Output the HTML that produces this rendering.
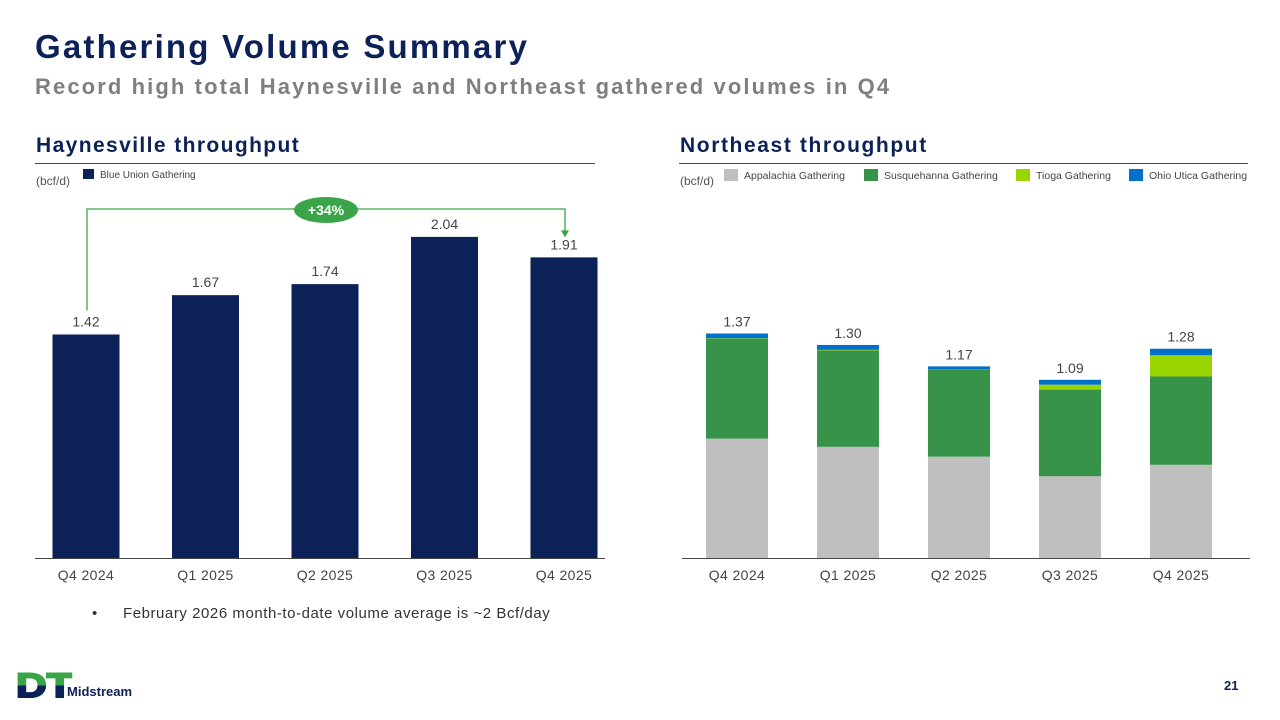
<!DOCTYPE html>
<html><head><meta charset="utf-8"><style>
body{margin:0;width:1280px;height:720px;background:#fff;font-family:"Liberation Sans",sans-serif;position:relative;overflow:hidden}
.a{position:absolute;white-space:nowrap}
</style></head><body>
<div class="a" style="left:35px;top:28px;font-size:33px;font-weight:bold;color:#0d2159;letter-spacing:2.2px">Gathering Volume Summary</div>
<div class="a" style="left:35px;top:74px;font-size:22px;font-weight:bold;color:#7f7f7f;letter-spacing:2.1px">Record high total Haynesville and Northeast gathered volumes in Q4</div>
<div class="a" style="left:36px;top:134px;font-size:21px;font-weight:bold;color:#0d2159;letter-spacing:1.4px">Haynesville throughput</div>
<div class="a" style="left:680px;top:134px;font-size:21px;font-weight:bold;color:#0d2159;letter-spacing:1.6px">Northeast throughput</div>
<div class="a" style="left:92px;top:605px;font-size:15px;color:#333">•</div>
<div class="a" style="left:123px;top:605px;font-size:15px;color:#333;letter-spacing:0.55px">February 2026 month-to-date volume average is ~2 Bcf/day</div>
<div class="a" style="left:1224px;top:678px;font-size:13px;font-weight:bold;color:#0d2159">21</div>
<div class="a" style="left:16px;top:672px;width:110px;height:28px">
 <div class="a" style="left:0;top:0;font-size:34px;font-weight:900;line-height:28px;transform:scaleX(1.25);transform-origin:left;background:linear-gradient(#3aa548 48%,#0d2159 48%);-webkit-background-clip:text;background-clip:text;color:transparent;-webkit-text-stroke:2px transparent">DT</div>
 <div class="a" style="left:51px;top:12px;font-size:13px;font-weight:bold;color:#0d2159">Midstream</div>
</div>
<svg class="a" style="left:0;top:0" width="1280" height="720">
<g id="h"></g><g id="n"></g></svg>
<script>
const hCats=["Q4 2024","Q1 2025","Q2 2025","Q3 2025","Q4 2025"];
const hVals=[1.42,1.67,1.74,2.04,1.91];
const nCats=["Q4 2024","Q1 2025","Q2 2025","Q3 2025","Q4 2025"];
const nApp=[0.73,0.68,0.62,0.50,0.57];
const nSus=[0.61,0.59,0.53,0.53,0.54];
const nTio=[0.003,0.003,0.002,0.03,0.13];
const nOhio=[0.03,0.03,0.02,0.03,0.04];
const nTotals=["1.37","1.30","1.17","1.09","1.28"];
const NS="http://www.w3.org/2000/svg";
function mk(p,t,a,txt){const e=document.createElementNS(NS,t);for(const k in a)e.setAttribute(k,a[k]);if(txt!=null)e.textContent=txt;p.appendChild(e);return e;}
const base=558;
const h=document.getElementById('h');
const hy=v=>base-v*157.4, hx=i=>86+i*119.5;
mk(h,'line',{x1:35,x2:595,y1:163.5,y2:163.5,stroke:'#444','stroke-width':1});
let t=mk(h,'text',{x:36,y:185,'font-size':12,fill:'#555'},'(bcf/d)');

let r=mk(h,'rect',{x:83,y:169,width:11,height:10,fill:'#0d2159'});

t=mk(h,'text',{x:100,y:178,'font-size':10,fill:'#444'},'Blue Union Gathering');

hVals.forEach((v,i)=>{
 let b=mk(h,'rect',{x:hx(i)-33.5,y:hy(v),width:67,height:v*157.4,fill:'#0d2159'});
 
 
 let l=mk(h,'text',{x:hx(i),y:hy(v)-8,'font-size':14,fill:'#444','text-anchor':'middle'},v.toFixed(2));
 
 let c=mk(h,'text',{x:hx(i),y:580,'font-size':14,fill:'#444','text-anchor':'middle','letter-spacing':0.4},hCats[i]);
 
});
mk(h,'line',{x1:35,x2:605,y1:558.5,y2:558.5,stroke:'#444'});
let p=mk(h,'polyline',{points:`${hx(0)+1},${hy(hVals[0])-24} ${hx(0)+1},209 ${hx(4)+1},209 ${hx(4)+1},${hy(hVals[4])-24}`,fill:'none',stroke:'#3aa548','stroke-width':1.3});

p=mk(h,'polygon',{points:`${hx(4)-3},${hy(hVals[4])-27} ${hx(4)+5},${hy(hVals[4])-27} ${hx(4)+1},${hy(hVals[4])-20}`,fill:'#3aa548'});

p=mk(h,'ellipse',{cx:326,cy:210,rx:32,ry:13,fill:'#3aa548'});

t=mk(h,'text',{x:326,y:215,'font-size':14,'font-weight':'bold',fill:'#fff','text-anchor':'middle'},'+34%');

const n=document.getElementById('n');
const K=163.5, nx=i=>737+i*111;
mk(n,'line',{x1:679,x2:1248,y1:163.5,y2:163.5,stroke:'#444'});
t=mk(n,'text',{x:680,y:185,'font-size':12,fill:'#555'},'(bcf/d)');

const leg=[["Appalachia Gathering","#bfbfbf",724],["Susquehanna Gathering","#37934a",864],["Tioga Gathering","#99d600",1016],["Ohio Utica Gathering","#0070c8",1129]];
leg.forEach(l=>{
 let q=mk(n,'rect',{x:l[2],y:169,width:14,height:12,fill:l[1]});
 
 let s=mk(n,'text',{x:l[2]+20,y:179,'font-size':10.5,fill:'#444'},l[0]);
 
});
const series=[[nApp,'#bfbfbf','appalachia'],[nSus,'#37934a','susquehanna'],[nTio,'#99d600','tioga'],[nOhio,'#0070c8','ohio-utica']];
nCats.forEach((c,i)=>{
 let acc=0;
 series.forEach(s=>{
  const v=s[0][i];
  let b=mk(n,'rect',{x:nx(i)-31,y:base-(acc+v)*K,width:62,height:v*K,fill:s[1]});
  
  
  acc+=v;
 });
 let l=mk(n,'text',{x:nx(i),y:base-acc*K-7,'font-size':14,fill:'#444','text-anchor':'middle'},nTotals[i]);
 
 let x=mk(n,'text',{x:nx(i),y:580,'font-size':14,fill:'#444','text-anchor':'middle','letter-spacing':0.4},c);
 
});
mk(n,'line',{x1:682,x2:1250,y1:558.5,y2:558.5,stroke:'#444'});
</script>
</body></html>
